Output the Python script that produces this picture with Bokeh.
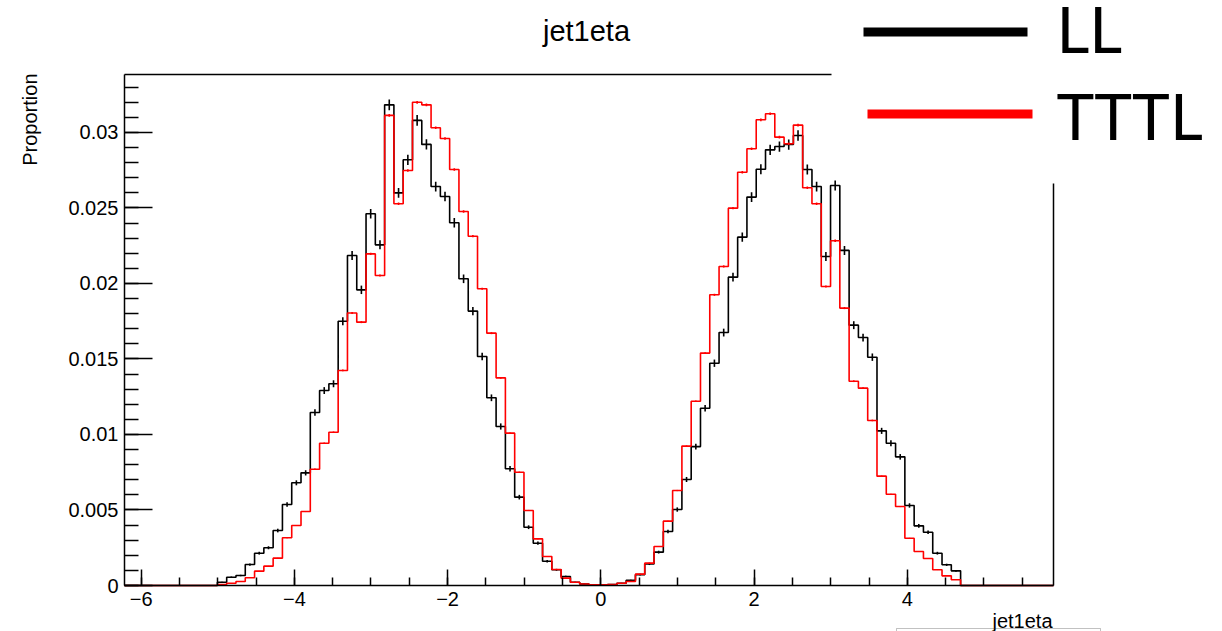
import numpy as np
from bokeh.plotting import figure
from bokeh.models import Label, BoxAnnotation, FixedTicker, Range1d, LinearAxis
from bokeh.embed import file_html
from bokeh.resources import INLINE

W, H = 1222, 631

# ---- data ----
X_MIN, X_MAX = -6.217, 5.908
N_BINS = 100
FIRST_BIN = 10
Y_MAX = 0.03384

ll_values = [
    0.00022, 0.00055, 0.00066, 0.00139, 0.00214, 0.00250, 0.00364, 0.00536, 0.00680, 0.00746,
    0.01146, 0.01291, 0.01336, 0.01750, 0.02185, 0.01958, 0.02462, 0.02256, 0.03183, 0.02600,
    0.02819, 0.03080, 0.02921, 0.02642, 0.02576, 0.02402, 0.02031, 0.01817, 0.01517, 0.01243,
    0.01053, 0.00773, 0.00585, 0.00386, 0.00280, 0.00161, 0.00104, 0.00060, 0.00022, 0.00010,
    0.00004, 0.00004, 0.00006, 0.00015, 0.00035, 0.00072, 0.00143, 0.00221, 0.00358, 0.00503,
    0.00702, 0.00920, 0.01174, 0.01472, 0.01675, 0.02042, 0.02307, 0.02572, 0.02757, 0.02885,
    0.02907, 0.02920, 0.02980, 0.02755, 0.02642, 0.02179, 0.02649, 0.02219, 0.01724, 0.01642,
    0.01512, 0.01024, 0.00942, 0.00852, 0.00530, 0.00395, 0.00353, 0.00214, 0.00137, 0.00097,
]
tttl_values = [
    0.00007, 0.00015, 0.00026, 0.00051, 0.00095, 0.00128, 0.00181, 0.00316, 0.00397, 0.00490,
    0.00770, 0.00942, 0.01015, 0.01424, 0.01805, 0.01744, 0.02196, 0.02053, 0.03113, 0.02528,
    0.02748, 0.03200, 0.03183, 0.03031, 0.02960, 0.02755, 0.02477, 0.02313, 0.01965, 0.01671,
    0.01375, 0.01009, 0.00750, 0.00497, 0.00309, 0.00192, 0.00106, 0.00049, 0.00022, 0.00010,
    0.00004, 0.00004, 0.00006, 0.00015, 0.00026, 0.00075, 0.00148, 0.00258, 0.00426, 0.00629,
    0.00923, 0.01220, 0.01539, 0.01925, 0.02113, 0.02499, 0.02737, 0.02892, 0.03084, 0.03124,
    0.02969, 0.02925, 0.03049, 0.02634, 0.02528, 0.01980, 0.02283, 0.01837, 0.01353, 0.01307,
    0.01093, 0.00724, 0.00604, 0.00523, 0.00313, 0.00225, 0.00179, 0.00104, 0.00064, 0.00038,
]
x_ticks = [-6, -4, -2, 0, 2, 4]
x_tick_labels = ["\u22126", "\u22124", "\u22122", "0", "2", "4"]
y_ticks = [0, 0.005, 0.01, 0.015, 0.02, 0.025, 0.03]
y_tick_labels = ["0", "0.005", "0.01", "0.015", "0.02", "0.025", "0.03"]
series_names = ["LL", "TTTL"]
series_colors = ["black", "#ff0000"]
err_scale = [0.002, 0.0005]

# ---- layout (canvas pixels) ----
FRAME_L, FRAME_R, FRAME_T, FRAME_B = 124, 1053, 74, 585
CUT_X, CUT_Y = 831, 183          # where the pasted legend image hides the frame
BASE_SHIFT = 0.39                # baseline correction, in em

kx = (FRAME_R - FRAME_L) / (X_MAX - X_MIN)
ky = (FRAME_B - FRAME_T) / Y_MAX
cx0 = X_MIN - FRAME_L / kx
cx1 = X_MAX + (W - FRAME_R) / kx
cy0 = -(H - FRAME_B) / ky
cy1 = Y_MAX + FRAME_T / ky
x_cut = X_MIN + (CUT_X - FRAME_L) / kx
y_cut = (FRAME_B - CUT_Y) / ky

edges = np.linspace(X_MIN, X_MAX, N_BINS + 1)
centers = 0.5 * (edges[:-1] + edges[1:])


def full(vals):
    arr = np.zeros(N_BINS)
    arr[FIRST_BIN:FIRST_BIN + len(vals)] = vals
    return arr


FONT = "Liberation Sans"

p = figure(width=W, height=H, x_range=Range1d(cx0, cx1), y_range=Range1d(cy0, cy1),
           output_backend="svg", toolbar_location=None, title=None, min_border=0)
p.grid.visible = False
p.background_fill_color = "white"
p.border_fill_color = "white"
p.outline_line_color = None


def style_axis(ax):
    ax.axis_line_color = "black"
    ax.axis_line_width = 1.5
    ax.major_tick_line_color = "black"
    ax.major_tick_line_width = 1.5
    ax.minor_tick_line_color = "black"
    ax.minor_tick_line_width = 1.5
    ax.major_tick_out = 0
    ax.minor_tick_out = 0
    ax.major_label_text_font = FONT
    ax.major_label_text_font_size = "20px"
    ax.major_label_text_color = "black"
    ax.major_label_standoff = 6


xa = p.xaxis[0]
ya = p.yaxis[0]
style_axis(xa)
style_axis(ya)
xa.fixed_location = 0
xa.bounds = (X_MIN, X_MAX)
xa.ticker = FixedTicker(ticks=x_ticks, minor_ticks=list(np.arange(-6.0, 6.0, 0.5)))
xa.major_label_overrides = {t: l for t, l in zip(x_ticks, x_tick_labels)}
xa.major_tick_in = 16
xa.minor_tick_in = 8

ya.fixed_location = X_MIN
ya.bounds = (0, Y_MAX)
ya.ticker = FixedTicker(ticks=y_ticks, minor_ticks=[i * 0.001 for i in range(34)])
ya.major_label_overrides = {t: l for t, l in zip(y_ticks, y_tick_labels)}
ya.major_tick_in = 28
ya.minor_tick_in = 14

# top and right frame lines (partly hidden by the legend image)
top_ax = LinearAxis(fixed_location=Y_MAX, bounds=(X_MIN, x_cut), ticker=FixedTicker(ticks=[]),
                    axis_line_color="black", axis_line_width=1.5, major_label_text_alpha=0)
right_ax = LinearAxis(fixed_location=X_MAX, bounds=(0, y_cut), ticker=FixedTicker(ticks=[]),
                      axis_line_color="black", axis_line_width=1.5, major_label_text_alpha=0)
p.add_layout(top_ax, "above")
p.add_layout(right_ax, "right")

for vals, color, es in zip([ll_values, tttl_values], series_colors, err_scale):
    h = full(vals)
    p.step(edges, np.append(h, h[-1]), mode="after", line_color=color, line_width=1.6)
    nz = h > 0
    e = es * np.sqrt(h[nz])
    p.segment(x0=centers[nz], y0=h[nz] - e, x1=centers[nz], y1=h[nz] + e,
              line_color=color, line_width=1.6)


def SY(py):
    return H - py


def screen_box(l, r, t, b, **kw):
    return BoxAnnotation(left=l, right=r, top=SY(t), bottom=SY(b),
                         left_units="screen", right_units="screen",
                         top_units="screen", bottom_units="screen", **kw)


def text_label(px, baseline_py, text, size, font=FONT, align="left", rotated=False, **kw):
    # place a text with its alphabetic baseline at the given canvas pixel
    shift = BASE_SHIFT * size
    if rotated:
        x, y = px - shift, SY(baseline_py)
        angle = np.pi / 2
    else:
        x, y = px, SY(baseline_py - shift)
        angle = 0
    return Label(x=x, y=y, x_units="screen", y_units="screen", text=text,
                 text_font=font, text_font_size=f"{size}px", text_color="black",
                 text_align=align, text_baseline="alphabetic", angle=angle, **kw)


# legend (pasted image in the reference)
p.add_layout(screen_box(863, 1027, 27, 36, fill_color=series_colors[0], fill_alpha=1.0,
                        line_alpha=0, level="overlay"))
p.add_layout(screen_box(867, 1032, 109, 118, fill_color=series_colors[1], fill_alpha=1.0,
                        line_alpha=0, level="overlay"))
p.add_layout(text_label(1056, 53, series_names[0], 64, font="Lato", level="overlay"))
p.add_layout(text_label(1056, 140, series_names[1], 64, font="Lato", level="overlay"))

# title
p.add_layout(text_label(586, 41.5, "jet1eta", 29, align="center"))
# y axis title (rotated, right-aligned at the top of the axis)
p.add_layout(text_label(37.5, 73, "Proportion", 20, align="right", rotated=True))
# x axis title (right-aligned at the end of the axis)
p.add_layout(text_label(1052, 628.5, "jet1eta", 20, align="right"))
# top edge of the stats box
p.add_layout(screen_box(896, 1100, 628, 660, fill_alpha=0, line_color="#333333", line_width=1))

open("out.html", "w").write(file_html(p, INLINE))
